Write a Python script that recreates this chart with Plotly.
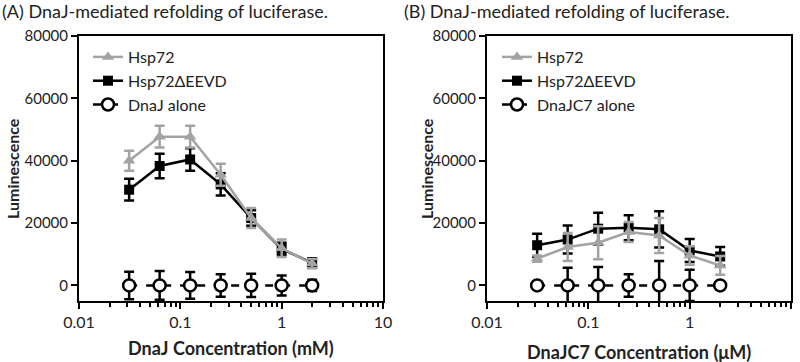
import plotly.graph_objects as go

conc = [0.03125, 0.0625, 0.125, 0.25, 0.5, 1, 2]

# Panel A
a_hsp72 = [40000, 47700, 47700, 35500, 21600, 11900, 7000]
a_hsp72_err = [3200, 3500, 3500, 3500, 3200, 2800, 1500]
a_deevd = [30700, 38300, 40400, 32400, 21600, 11700, 7200]
a_deevd_err = [3500, 3900, 3600, 3600, 2500, 2000, 1500]
a_alone = [0, 0, 0, 0, 0, 0, 0]
a_alone_err = [4400, 4600, 4300, 3600, 3750, 3200, 1800]

# Panel B
b_hsp72 = [8600, 12300, 13700, 17100, 16000, 9600, 6400]
b_hsp72_err = [1000, 4500, 5300, 3200, 5600, 3000, 3000]
b_deevd = [12900, 14700, 18200, 18500, 18000, 11200, 9300]
b_deevd_err = [3700, 4500, 5100, 4000, 5800, 3700, 3000]
b_alone = [0, 0, 0, 0, 0, 0, 0]
b_alone_err = [1000, 5700, 5900, 3600, 7800, 5000, 1000]

names_a = ["Hsp72", "Hsp72\u0394EEVD", "DnaJ alone"]
names_b = ["Hsp72", "Hsp72\u0394EEVD", "DnaJC7 alone"]

titles = ["(A) DnaJ-mediated refolding of luciferase.",
          "(B) DnaJ-mediated refolding of luciferase."]
xtitles = ["DnaJ Concentration (mM)", "DnaJC7 Concentration (\u03bcM)"]
ytitle = "Luminescence"
yticks = [0, 20000, 40000, 60000, 80000]
ytick_text = ["0", "20000", "40000", "60000", "80000"]
xticks = [0.01, 0.1, 1, 10]
xtick_text = ["0.01", "0.1", "1", "10"]

GRAY = "#a3a3a3"
FONT = "Lato"
TXT = "#222"

fig = go.Figure()

def add_panel(xa, ya, leg, hsp, hsp_e, dee, dee_e, alo, alo_e, names):
    fig.add_trace(go.Scatter(
        x=conc, y=dee, name=names[1], xaxis=xa, yaxis=ya, legend=leg, legendrank=2,
        mode="lines+markers", line=dict(color="black", width=2.5),
        marker=dict(symbol="square", size=10, color="black"),
        error_y=dict(type="data", array=dee_e, color="black", thickness=2.5, width=5)))
    fig.add_trace(go.Scatter(
        x=conc, y=hsp, name=names[0], xaxis=xa, yaxis=ya, legend=leg, legendrank=1,
        mode="lines+markers", line=dict(color=GRAY, width=2.5),
        marker=dict(symbol="triangle-up", size=11, color=GRAY),
        error_y=dict(type="data", array=hsp_e, color=GRAY, thickness=2.5, width=5)))
    fig.add_trace(go.Scatter(
        x=conc, y=alo, name=names[2], xaxis=xa, yaxis=ya, legend=leg, legendrank=3,
        mode="lines+markers", line=dict(color="black", width=2.5, dash="8px,9px"),
        marker=dict(symbol="circle", size=12, color="white",
                    line=dict(color="black", width=2.5)),
        error_y=dict(type="data", array=alo_e, color="black", thickness=2.5, width=5)))

add_panel("x", "y", "legend", a_hsp72, a_hsp72_err, a_deevd, a_deevd_err, a_alone, a_alone_err, names_a)
add_panel("x2", "y2", "legend2", b_hsp72, b_hsp72_err, b_deevd, b_deevd_err, b_alone, b_alone_err, names_b)

minor_vals = [m * d for d in [0.01, 0.1, 1] for m in range(2, 10)]

def xaxis(domain, anchor):
    return dict(domain=domain, anchor=anchor, type="log", range=[-2, 1],
                automargin=False,
                tickvals=xticks, ticktext=xtick_text,
                ticks="outside", ticklen=6, tickwidth=2, tickcolor="black",
                showline=True, linecolor="black", linewidth=2, mirror=True,
                showgrid=False, zeroline=False,
                tickfont=dict(family=FONT, size=16, color=TXT),
                minor=dict(tickvals=minor_vals, ticks="outside", ticklen=4,
                           tickwidth=2, tickcolor="black", showgrid=False))

def yaxis(anchor):
    return dict(domain=[61 / 362, 326 / 362], anchor=anchor, range=[-5000, 80000],
                automargin=False,
                tickvals=yticks, ticktext=ytick_text, ticks="outside", ticklen=6,
                tickwidth=2, tickcolor="black", showline=True, linecolor="black",
                linewidth=2, mirror=True, showgrid=False, zeroline=False,
                tickfont=dict(family=FONT, size=15, color=TXT))

legend_common = dict(bgcolor="rgba(0,0,0,0)", font=dict(family=FONT, size=16, color=TXT),
                     tracegroupgap=0, itemwidth=30, xanchor="left", yanchor="top",
                     traceorder="normal")

fig.update_layout(
    width=800, height=362,
    margin=dict(l=0, r=0, t=0, b=0, autoexpand=False),
    paper_bgcolor="white", plot_bgcolor="white",
    showlegend=True,
    xaxis=xaxis([79 / 800, 383 / 800], "y"),
    yaxis=yaxis("x"),
    xaxis2=xaxis([487 / 800, 791 / 800], "y2"),
    yaxis2=yaxis("x2"),
    legend=dict(x=88 / 800, y=1 - 40 / 362, **legend_common),
    legend2=dict(x=497 / 800, y=1 - 40 / 362, **legend_common),
)

anns = []
for i, (t, xt, xc, yx) in enumerate(zip(titles, xtitles, [231, 639], [12, 426])):
    anns.append(dict(text=t, x=(0 if i == 0 else 402) / 800, y=1 - 11 / 362,
                     xref="paper", yref="paper", xanchor="left", yanchor="middle",
                     showarrow=False, font=dict(family=FONT, size=18, color=TXT)))
    anns.append(dict(text="<b>" + xt + "</b>", x=xc / 800, y=1 - (348 if i == 0 else 352) / 362,
                     xref="paper", yref="paper", xanchor="center", yanchor="middle",
                     showarrow=False, font=dict(family=FONT, size=18, color=TXT)))
    anns.append(dict(text="<b>" + ytitle + "</b>", x=yx / 800, y=1 - 169 / 362,
                     xref="paper", yref="paper", xanchor="center", yanchor="middle",
                     textangle=-90, showarrow=False,
                     font=dict(family=FONT, size=16, color=TXT)))
fig.update_layout(annotations=anns)

fig.write_html("out.html", config={"displayModeBar": False},
               post_script="document.body.style.margin='0';")
